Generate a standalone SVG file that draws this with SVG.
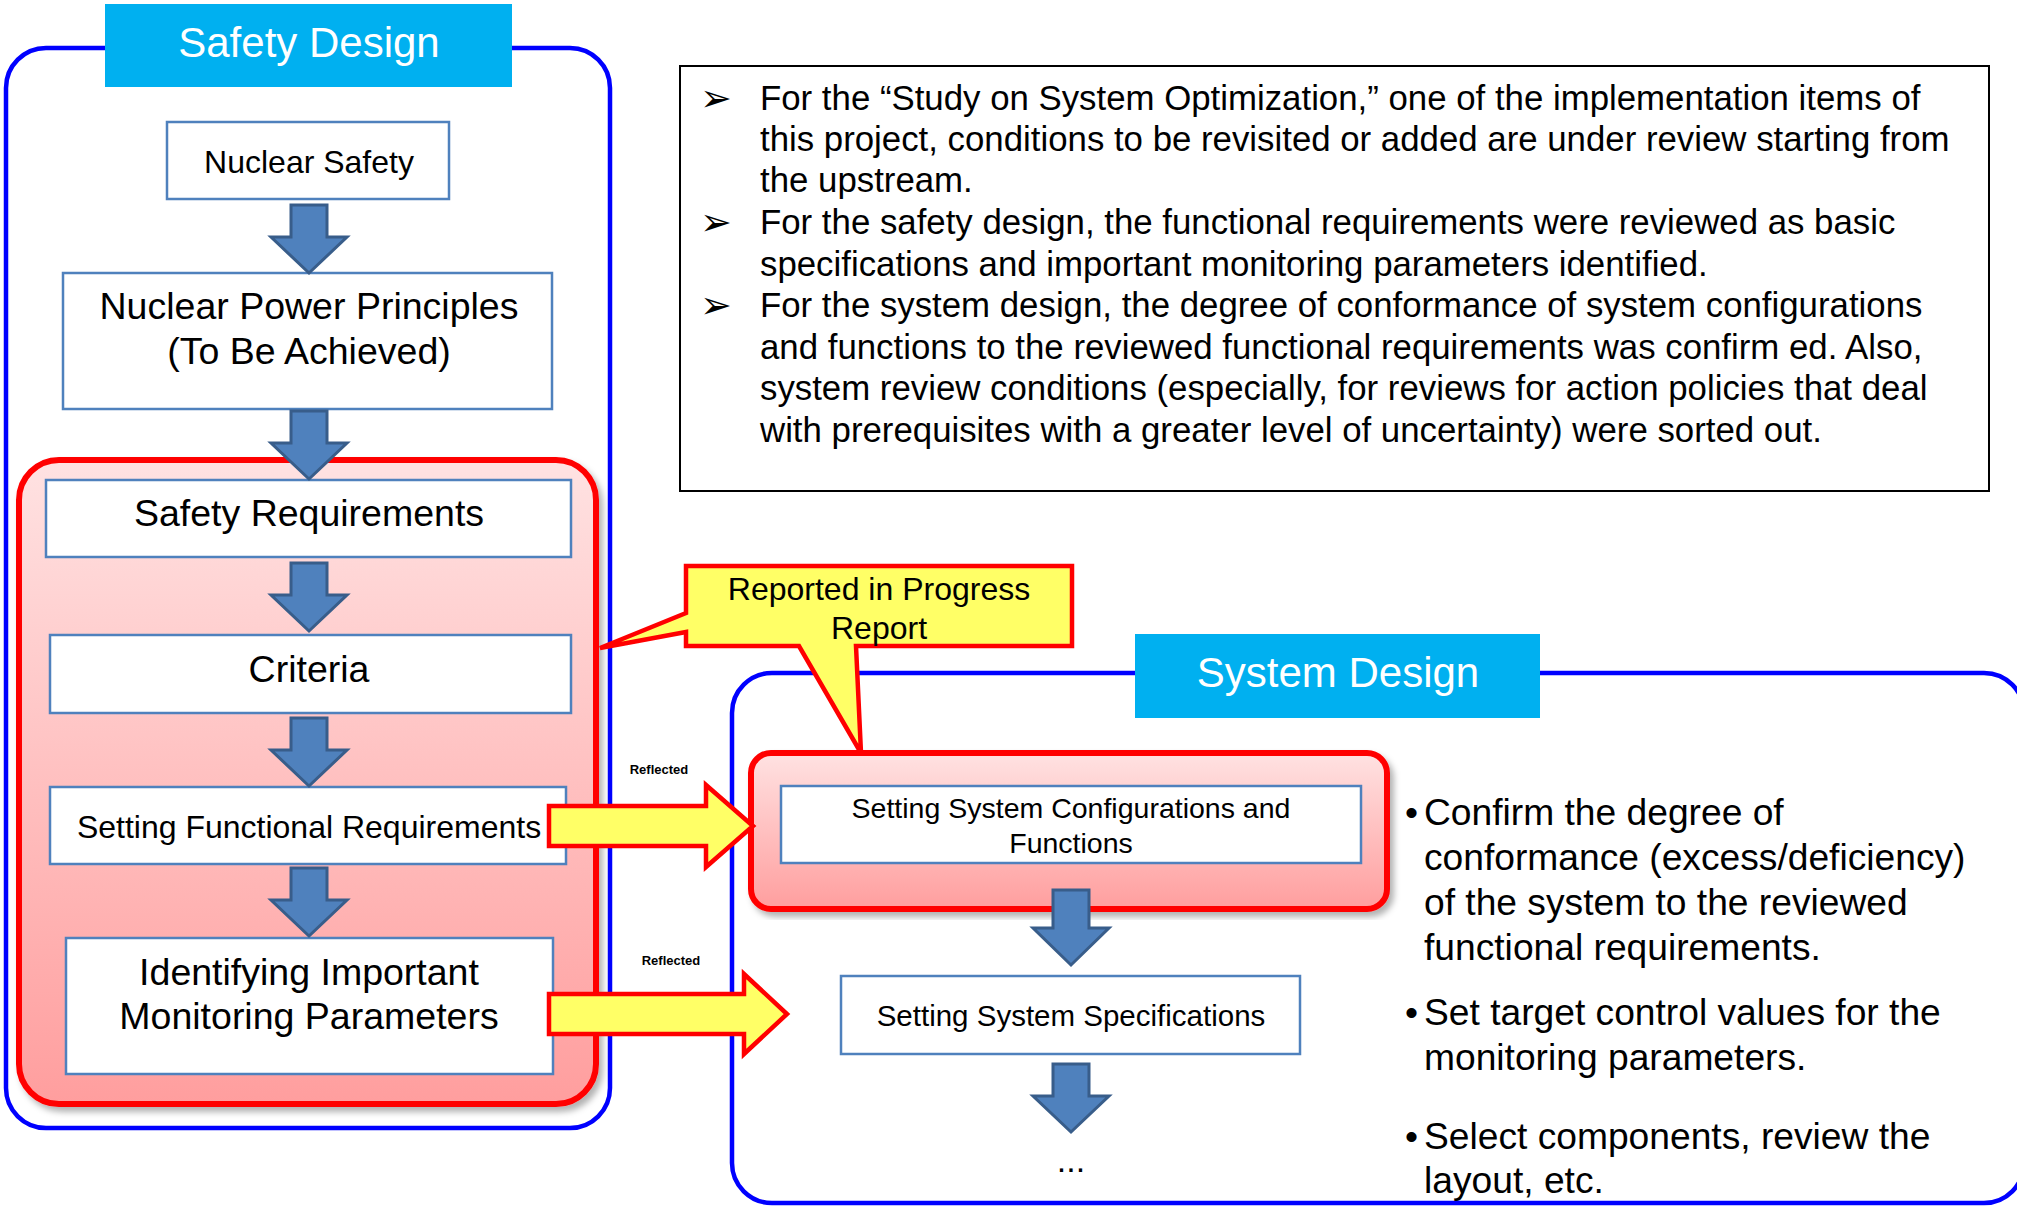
<svg xmlns="http://www.w3.org/2000/svg" width="2017" height="1209" viewBox="0 0 2017 1209">
<defs>
<linearGradient id="pink" x1="0" y1="0" x2="0" y2="1">
<stop offset="0" stop-color="#FFE2E2"/>
<stop offset="1" stop-color="#FF9E9E"/>
</linearGradient>
<filter id="sh" x="-5%" y="-5%" width="112%" height="112%">
<feDropShadow dx="4" dy="5" stdDeviation="3" flood-color="#000" flood-opacity="0.3"/>
</filter>
<path id="barrow" d="M-18,0 H18 V32 H38 L0,68 L-38,32 H-18 Z"/>
</defs>
<style>
text{font-family:"Liberation Sans",Arial,sans-serif;fill:#000}
.outer{fill:none;stroke:#0000FF;stroke-width:4.5}
.redbox{fill:url(#pink);stroke:#FF0000;stroke-width:6;filter:url(#sh)}
.node{fill:#FFFFFF;stroke:#4F81BD;stroke-width:2.5}
.title{fill:#00B0F0}
.ttl{fill:#FFFFFF;font-size:42px;text-anchor:middle}
.big{font-size:37.5px;text-anchor:middle}
.mid{font-size:32px;text-anchor:middle}
.sm{font-size:28.5px;text-anchor:middle}
.barrow{fill:#4F81BD;stroke:#385D8A;stroke-width:3}
.yarrow{fill:#FFFF66;stroke:#FF0000;stroke-width:4.5;stroke-linejoin:miter}
.note{font-size:34.8px}
.bul{font-family:"DejaVu Sans",sans-serif;font-size:38px}
.rb{font-size:37.2px}
.refl{font-size:13px;font-weight:bold;text-anchor:middle}
</style>

<g id="safety-design">
<rect class="outer" x="6" y="48" width="604" height="1080" rx="40"/>
<rect class="title" x="105" y="4" width="407" height="83"/>
<text class="ttl" x="309" y="57">Safety Design</text>
</g>

<g id="system-design">
<rect class="outer" x="732" y="673" width="1292" height="530" rx="40"/>
<rect class="title" x="1135" y="634" width="405" height="84"/>
<text class="ttl" x="1338" y="687">System Design</text>
</g>

<g id="note-box">
<rect x="680" y="66" width="1309" height="425" fill="#FFFFFF" stroke="#000" stroke-width="2"/>
<text class="bul" x="700" y="111">➢</text>
<text class="bul" x="700" y="235">➢</text>
<text class="bul" x="700" y="318">➢</text>
<text class="note" x="760" y="110">For the “Study on System Optimization,” one of the implementation items of</text>
<text class="note" x="760" y="151">this project, conditions to be revisited or added are under review starting from</text>
<text class="note" x="760" y="192">the upstream.</text>
<text class="note" x="760" y="234">For the safety design, the functional requirements were reviewed as basic</text>
<text class="note" x="760" y="276">specifications and important monitoring parameters identified.</text>
<text class="note" x="760" y="317">For the system design, the degree of conformance of system configurations</text>
<text class="note" x="760" y="359">and functions to the reviewed functional requirements was confirm ed. Also,</text>
<text class="note" x="760" y="400">system review conditions (especially, for reviews for action policies that deal</text>
<text class="note" x="760" y="442">with prerequisites with a greater level of uncertainty) were sorted out.</text>
</g>

<g id="safety-group">
<rect class="redbox" x="19" y="460" width="577" height="644" rx="40"/>
</g>

<g id="system-group">
<rect class="redbox" x="751" y="753" width="636" height="156" rx="20"/>
</g>

<g id="nuclear-safety">
<rect class="node" x="167" y="122" width="282" height="77"/>
<text class="mid" x="309" y="173">Nuclear Safety</text>
</g>

<g id="nuclear-power-principles">
<rect class="node" x="63" y="273" width="489" height="136"/>
<text class="big" x="309" y="319">Nuclear Power Principles</text>
<text class="big" x="309" y="364">(To Be Achieved)</text>
</g>

<g id="safety-requirements">
<rect class="node" x="46" y="480" width="525" height="77"/>
<text class="big" x="309" y="526">Safety Requirements</text>
</g>

<g id="criteria">
<rect class="node" x="50" y="635" width="521" height="78"/>
<text class="big" x="309" y="682">Criteria</text>
</g>

<g id="setting-functional-requirements">
<rect class="node" x="50" y="787" width="516" height="77"/>
<text class="mid" x="309" y="838">Setting Functional Requirements</text>
</g>

<g id="identifying-parameters">
<rect class="node" x="66" y="938" width="487" height="136"/>
<text class="big" x="309" y="985">Identifying Important</text>
<text class="big" x="309" y="1029">Monitoring Parameters</text>
</g>

<g id="setting-system-configurations">
<rect class="node" x="781" y="786" width="580" height="77"/>
<text class="sm" x="1071" y="818">Setting System Configurations and</text>
<text class="sm" x="1071" y="853">Functions</text>
</g>

<g id="setting-system-specifications">
<rect class="node" x="841" y="976" width="459" height="78"/>
<text class="sm" x="1071" y="1026" style="font-size:29.5px">Setting System Specifications</text>
</g>

<g id="ellipsis">
<text class="sm" x="1071" y="1172" style="font-size:34px">...</text>
</g>

<g id="callout">
<path class="yarrow" d="M686,566 H1072 V646 H856 L861,753 L799,646 H686 V632 L600,648 L686,613 Z"/>
<text class="mid" x="879" y="600">Reported in Progress</text>
<text class="mid" x="879" y="639">Report</text>
</g>

<g id="system-notes">
<text class="rb" x="1405" y="825">•</text>
<text class="rb" x="1424" y="825">Confirm the degree of</text>
<text class="rb" x="1424" y="870">conformance (excess/deficiency)</text>
<text class="rb" x="1424" y="915">of the system to the reviewed</text>
<text class="rb" x="1424" y="960">functional requirements.</text>
<text class="rb" x="1405" y="1025">•</text>
<text class="rb" x="1424" y="1025">Set target control values for the</text>
<text class="rb" x="1424" y="1070">monitoring parameters.</text>
<text class="rb" x="1405" y="1149">•</text>
<text class="rb" x="1424" y="1149">Select components, review the</text>
<text class="rb" x="1424" y="1193">layout, etc.</text>
</g>

<g id="connectors">
<use href="#barrow" class="barrow" x="309" y="205"/>
<use href="#barrow" class="barrow" x="309" y="411"/>
<use href="#barrow" class="barrow" x="309" y="563"/>
<use href="#barrow" class="barrow" x="309" y="718"/>
<use href="#barrow" class="barrow" x="309" y="868"/>
<path class="barrow" d="M1053,890 H1089 V928 H1109 L1071,965 L1033,928 H1053 Z"/>
<use href="#barrow" class="barrow" x="1071" y="1064"/>
<path class="yarrow" d="M549,806 H706 V785 L753,826 L706,867 V846 H549 Z"/>
<path class="yarrow" d="M549,994 H744 V974 L787,1014 L744,1054 V1034 H549 Z"/>
<text class="refl" x="659" y="774">Reflected</text>
<text class="refl" x="671" y="965">Reflected</text>
</g>
</svg>
